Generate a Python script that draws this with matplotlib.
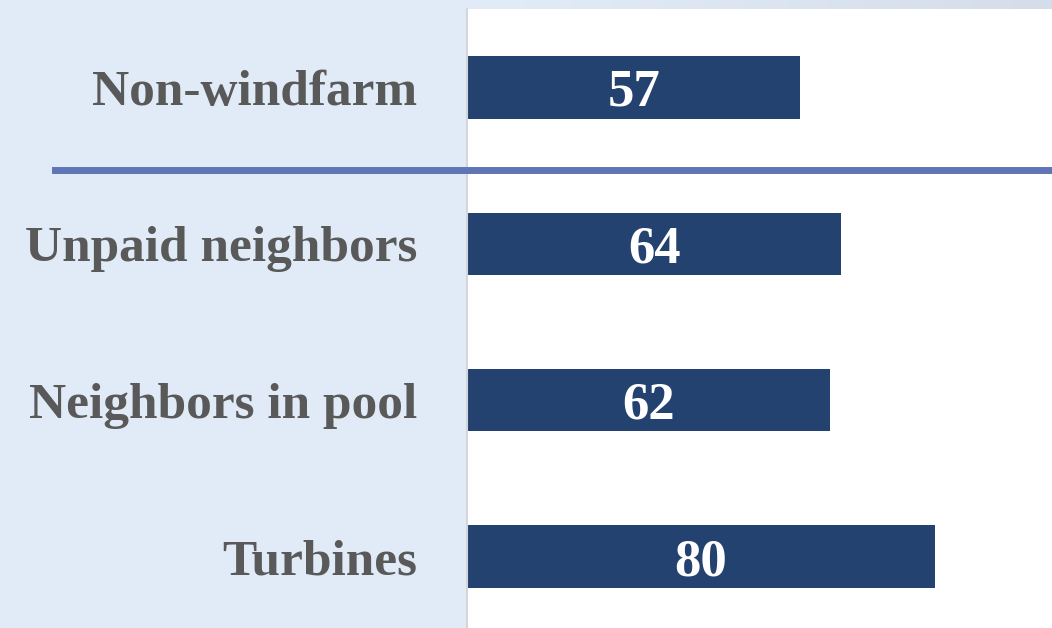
import numpy as np
import matplotlib
matplotlib.use("Agg")
import matplotlib.pyplot as plt
from matplotlib.colors import LinearSegmentedColormap

categories = ["Turbines", "Neighbors in pool", "Unpaid neighbors", "Non-windfarm"]
values = [80, 62, 64, 57]

BAR_COLOR = "#23426f"
LABEL_COLOR = "#595959"
PANEL_COLOR = "#e1ebf7"
LINE_COLOR = "#5f75b5"

plt.rcParams["font.family"] = ["Liberation Serif", "DejaVu Serif"]

fig = plt.figure(figsize=(10.52, 6.28), dpi=100, facecolor=PANEL_COLOR)

# thin gradient strip along the top
strip = fig.add_axes([0, 619 / 628, 1, 9 / 628])
cmap = LinearSegmentedColormap.from_list("strip", [PANEL_COLOR, PANEL_COLOR, "#d5ddea"])
strip.imshow(np.linspace(0, 1, 256).reshape(1, -1), aspect="auto", cmap=cmap,
             extent=[0, 1, 0, 1])
strip.axis("off")

ax = fig.add_axes([467 / 1052, 0, 585 / 1052, 619 / 628])
ax.set_facecolor("white")

y = np.arange(len(categories))
bars = ax.barh(y, values, height=0.4, color=BAR_COLOR)

for b, v in zip(bars, values):
    ax.text(b.get_width() / 2, b.get_y() + b.get_height() / 2, str(v),
            ha="center", va="center_baseline", color="white",
            fontsize=38, fontweight="bold")

ax.set_xlim(0, 100)
ax.set_ylim(-0.457, 3.502)
ax.set_xticks([])
ax.set_yticks(y)
ax.set_yticklabels(categories, fontsize=37, fontweight="bold", color=LABEL_COLOR)
ax.tick_params(axis="y", length=0, pad=36)

for s in ["top", "right", "bottom"]:
    ax.spines[s].set_visible(False)
ax.spines["left"].set_color("#d3d6db")
ax.spines["left"].set_linewidth(1.5)

# separator between the non-windfarm group and the rest
ax.axhline(2.47, xmin=(55 - 467) / 585, xmax=1, color=LINE_COLOR, lw=5,
           clip_on=False, zorder=5)

fig.savefig("out.png", dpi=100, facecolor=fig.get_facecolor())
